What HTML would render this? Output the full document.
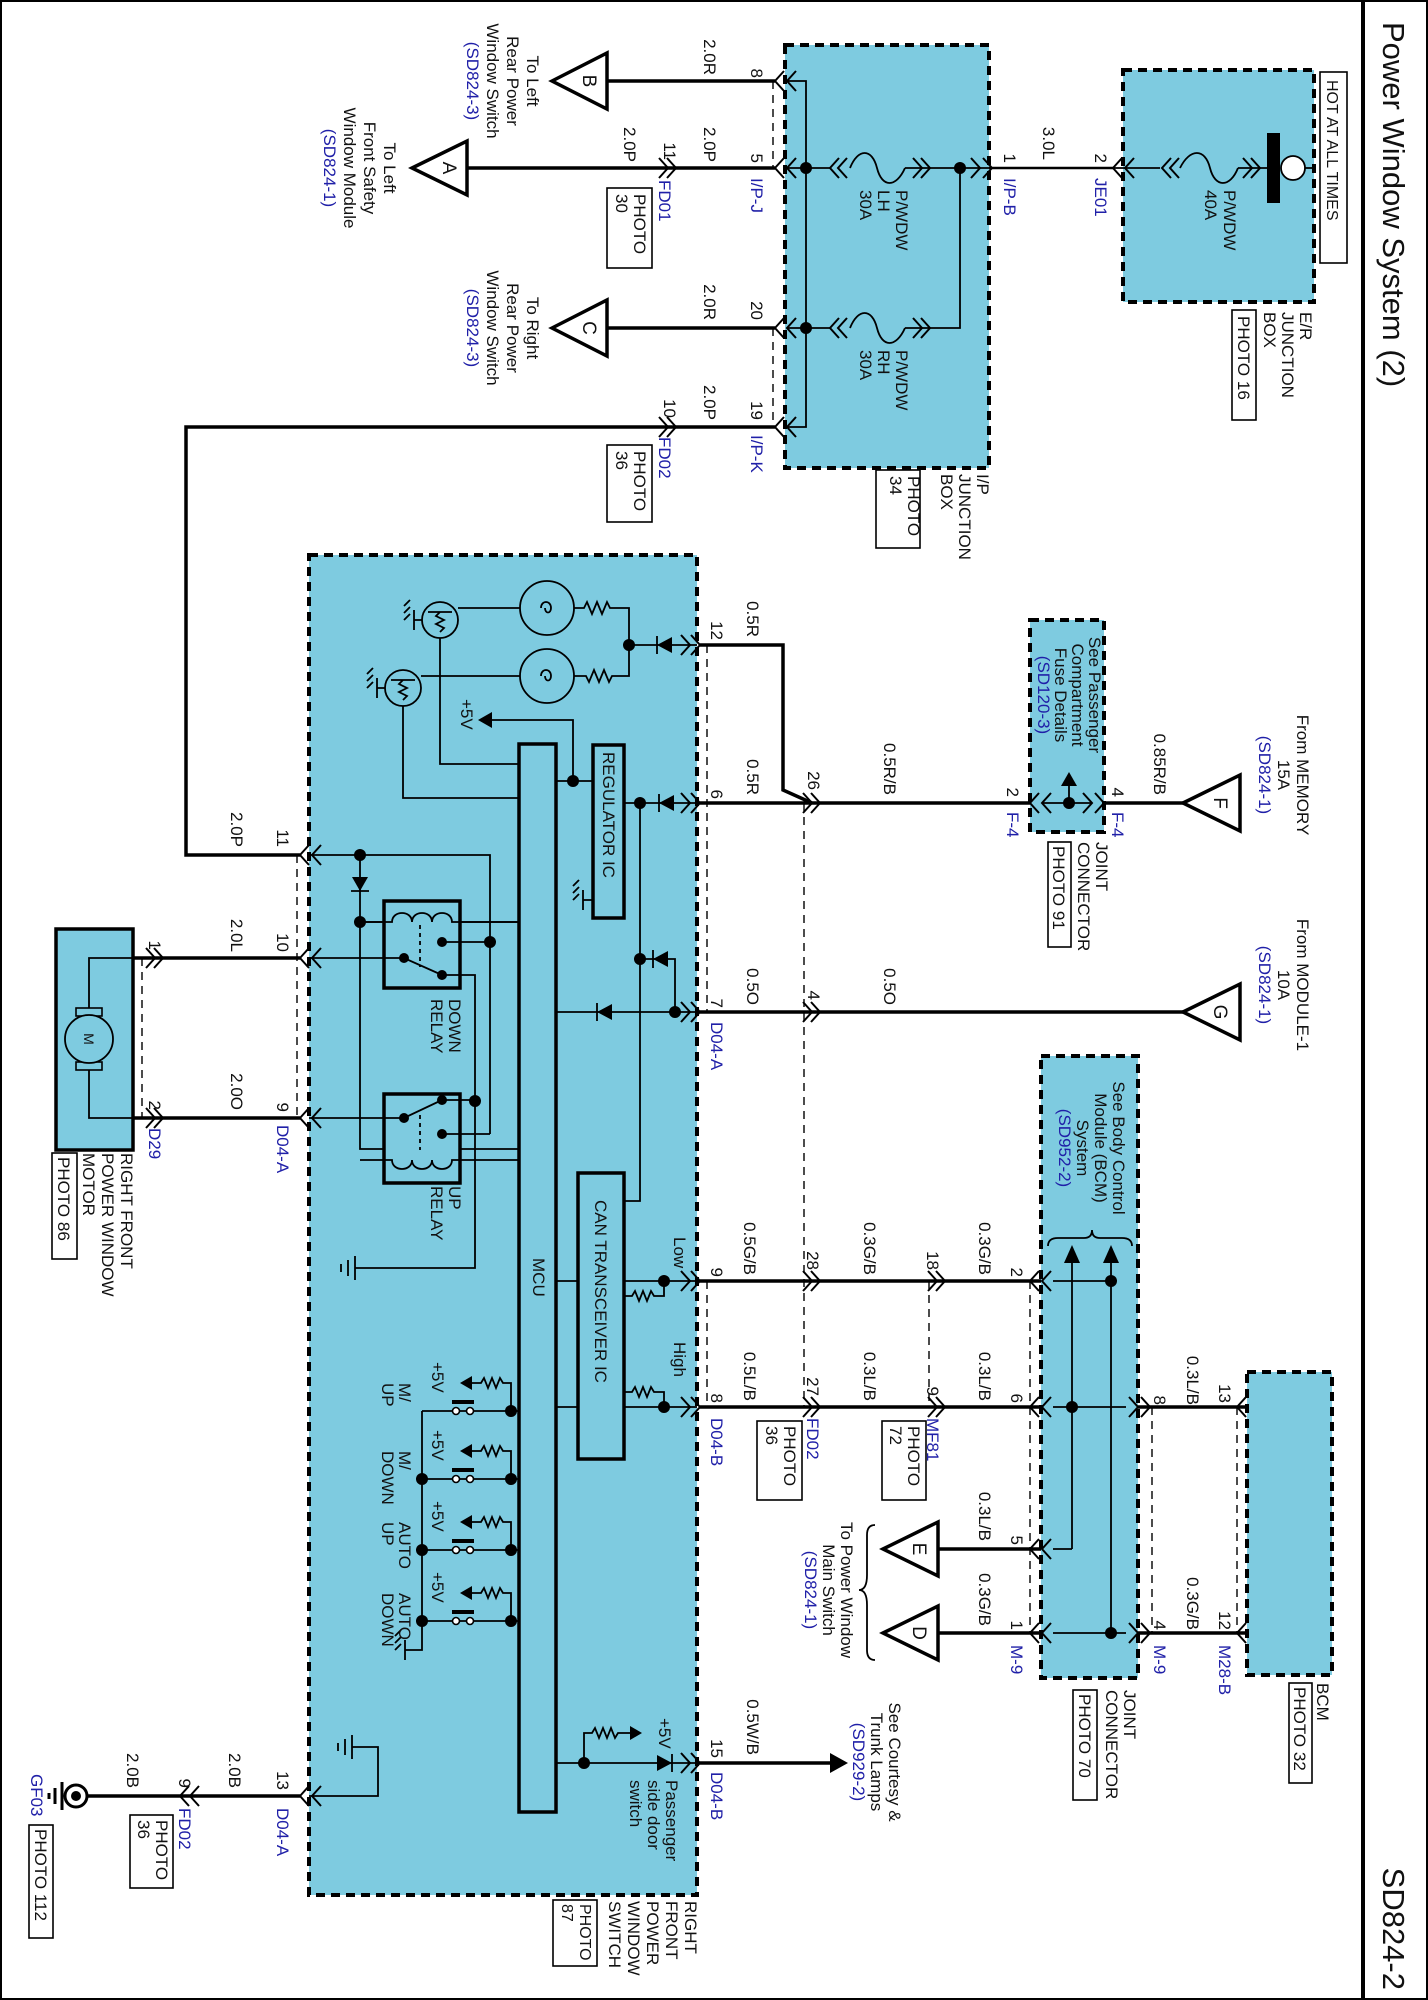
<!DOCTYPE html>
<html><head><meta charset="utf-8"><style>
html,body{margin:0;padding:0;background:#fff}
svg{display:block}
text{font-family:"Liberation Sans",sans-serif;font-size:17px;fill:#111}
.b{fill:#2020a8}
.w{stroke:#000;stroke-width:3.5;fill:none}
.n{stroke:#000;stroke-width:1.8;fill:none}
.d{stroke:#000;stroke-width:1.4;fill:none;stroke-dasharray:8,6}
.bx{fill:#7ecbe0;stroke:#000;stroke-width:4;stroke-dasharray:9,6}
.k{fill:#000}
.pb{fill:#fff;stroke:#000;stroke-width:1.6}
</style></head><body>
<svg width="1428" height="2000" viewBox="0 0 1428 2000" xmlns="http://www.w3.org/2000/svg">
<defs>
<g id="R"><path d="M-9,-10 L0,0 L-9,10" fill="none" stroke="#000" stroke-width="2"/></g>
<g id="L"><path d="M9,-10 L0,0 L9,10" fill="none" stroke="#000" stroke-width="2"/></g>
</defs>
<!-- frame -->
<rect x="1" y="1" width="1426" height="1998" fill="none" stroke="#000" stroke-width="2"/>
<line x1="1363" y1="0" x2="1363" y2="2000" stroke="#000" stroke-width="4"/>
<text transform="translate(1383,22) rotate(90)" style="font-size:31px">Power Window System (2)</text>
<text transform="translate(1383,1990) rotate(90)" text-anchor="end" style="font-size:31px">SD824-2</text>

<!-- E/R box -->
<rect class="bx" x="1123" y="70" width="191" height="232"/>
<rect x="1320" y="72" width="27" height="191" fill="#fff" stroke="#000" stroke-width="1.6"/>
<text transform="translate(1327,80) rotate(90)" style="font-size:16px">HOT AT ALL TIMES</text>
<path class="n" d="M1113,168 H1160 M1180,168 C1190,148 1205,148 1210,168 C1215,188 1230,188 1238,168 M1238,168 H1267"/>
<use href="#L" x="1113" y="168"/><use href="#L" x="1125" y="168"/>
<use href="#L" x="1162" y="168"/><use href="#L" x="1170" y="168"/>
<use href="#R" x="1252" y="168"/><use href="#R" x="1260" y="168"/>
<rect class="k" x="1267" y="133" width="13" height="70"/>
<circle cx="1293" cy="168" r="12" fill="#fff" stroke="#000" stroke-width="1.8"/>
<line class="n" x1="1305" y1="168" x2="1314" y2="168"/>
<text transform="translate(1224,190) rotate(90)">P/WDW<tspan x="0" dy="19">40A</tspan></text>
<text transform="translate(1300,312) rotate(90)">E/R<tspan x="0" dy="18">JUNCTION</tspan><tspan x="0" dy="18">BOX</tspan></text>
<rect x="1232" y="310" width="24" height="110" fill="none" stroke="#000" stroke-width="1.6"/>
<text transform="translate(1238,316) rotate(90)">PHOTO 16</text>
<line x1="989" y1="168" x2="1113" y2="168" stroke="#000" stroke-width="2.6"/>
<text transform="translate(1043,160) rotate(90)" text-anchor="end">3.0L</text>
<text transform="translate(1095,163) rotate(90)" text-anchor="end">2</text>
<text transform="translate(1004,163) rotate(90)" text-anchor="end">1</text>
<text class="b" transform="translate(1095,178) rotate(90)">JE01</text>
<text class="b" transform="translate(1004,178) rotate(90)">I/P-B</text>

<!-- I/P box -->
<rect class="bx" x="785" y="45" width="204" height="423"/>
<path class="n" d="M787,81 H806 V427 H787 M787,168 H830 M850,168 C858,148 872,148 877,168 C882,188 896,188 905,168 M905,168 H989 M787,328 H830 M850,328 C858,308 872,308 877,328 C882,348 896,348 905,328 M905,328 H960 V168"/>
<circle class="k" cx="806" cy="168" r="6"/><circle class="k" cx="806" cy="328" r="6"/><circle class="k" cx="960" cy="168" r="6"/>
<use href="#L" x="775" y="81"/><use href="#L" x="787" y="81"/>
<use href="#L" x="775" y="168"/><use href="#L" x="787" y="168"/>
<use href="#L" x="775" y="328"/><use href="#L" x="787" y="328"/>
<use href="#L" x="775" y="427"/><use href="#L" x="787" y="427"/>
<use href="#L" x="830" y="168"/><use href="#L" x="838" y="168"/>
<use href="#R" x="922" y="168"/><use href="#R" x="930" y="168"/>
<use href="#L" x="830" y="328"/><use href="#L" x="838" y="328"/>
<use href="#R" x="922" y="328"/><use href="#R" x="930" y="328"/>
<use href="#R" x="980" y="168"/><use href="#R" x="992" y="168"/>
<text transform="translate(896,190) rotate(90)">P/WDW<tspan x="0" dy="18">LH</tspan><tspan x="0" dy="18">30A</tspan></text>
<text transform="translate(896,350) rotate(90)">P/WDW<tspan x="0" dy="18">RH</tspan><tspan x="0" dy="18">30A</tspan></text>
<text transform="translate(977,474) rotate(90)">I/P<tspan x="0" dy="18">JUNCTION</tspan><tspan x="0" dy="18">BOX</tspan></text>
<rect x="876" y="470" width="44" height="78" fill="none" stroke="#000" stroke-width="1.6"/>
<text transform="translate(908,476) rotate(90)">PHOTO<tspan x="0" dy="18">34</tspan></text>
<line class="d" x1="773" y1="81" x2="773" y2="168"/><line class="d" x1="773" y1="328" x2="773" y2="427"/>

<!-- left top wires -->
<path class="w" d="M607,81 H775 M467,168 H775 M607,328 H775 M775,427 H186 V855 H300"/>
<polygon points="552,81 607,53 607,109" fill="#fff" stroke="#000" stroke-width="3.5"/>
<polygon points="412,168 467,141 467,195" fill="#fff" stroke="#000" stroke-width="3.5"/>
<polygon points="552,328 607,300 607,356" fill="#fff" stroke="#000" stroke-width="3.5"/>
<text transform="translate(583,81) rotate(90)" text-anchor="middle" style="font-size:19px">B</text>
<text transform="translate(443,168) rotate(90)" text-anchor="middle" style="font-size:19px">A</text>
<text transform="translate(583,328) rotate(90)" text-anchor="middle" style="font-size:19px">C</text>
<use href="#R" x="668" y="168"/><use href="#R" x="676" y="168"/>
<use href="#R" x="668" y="427"/><use href="#R" x="676" y="427"/>
<text transform="translate(704,75) rotate(90)" text-anchor="end">2.0R</text>
<text transform="translate(751,78) rotate(90)" text-anchor="end">8</text>
<text transform="translate(704,162) rotate(90)" text-anchor="end">2.0P</text>
<text transform="translate(751,163) rotate(90)" text-anchor="end">5</text>
<text class="b" transform="translate(751,178) rotate(90)">I/P-J</text>
<text transform="translate(624,162) rotate(90)" text-anchor="end">2.0P</text>
<text transform="translate(664,160) rotate(90)" text-anchor="end">11</text>
<text class="b" transform="translate(659,180) rotate(90)">FD01</text>
<rect x="607" y="188" width="45" height="80" fill="none" stroke="#000" stroke-width="1.6"/>
<text transform="translate(634,194) rotate(90)">PHOTO<tspan x="0" dy="18">30</tspan></text>
<text transform="translate(704,320) rotate(90)" text-anchor="end">2.0R</text>
<text transform="translate(751,320) rotate(90)" text-anchor="end">20</text>
<text transform="translate(704,420) rotate(90)" text-anchor="end">2.0P</text>
<text transform="translate(751,420) rotate(90)" text-anchor="end">19</text>
<text class="b" transform="translate(751,435) rotate(90)">I/P-K</text>
<text transform="translate(664,418) rotate(90)" text-anchor="end">10</text>
<text class="b" transform="translate(659,437) rotate(90)">FD02</text>
<rect x="607" y="445" width="45" height="77" fill="none" stroke="#000" stroke-width="1.6"/>
<text transform="translate(634,451) rotate(90)">PHOTO<tspan x="0" dy="18">36</tspan></text>
<text transform="translate(527,81) rotate(90)" text-anchor="middle">To Left<tspan x="0" dy="20">Rear Power</tspan><tspan x="0" dy="20">Window Switch</tspan><tspan class="b" x="0" dy="20">(SD824-3)</tspan></text>
<text transform="translate(384,168) rotate(90)" text-anchor="middle">To Left<tspan x="0" dy="20">Front Safety</tspan><tspan x="0" dy="20">Window Module</tspan><tspan class="b" x="0" dy="20">(SD824-1)</tspan></text>
<text transform="translate(527,328) rotate(90)" text-anchor="middle">To Right<tspan x="0" dy="20">Rear Power</tspan><tspan x="0" dy="20">Window Switch</tspan><tspan class="b" x="0" dy="20">(SD824-3)</tspan></text>

<!-- switch box -->
<rect class="bx" x="309" y="555" width="388" height="1340"/>
<text transform="translate(685,1901) rotate(90)">RIGHT<tspan x="0" dy="19">FRONT</tspan><tspan x="0" dy="19">POWER</tspan><tspan x="0" dy="19">WINDOW</tspan><tspan x="0" dy="19">SWITCH</tspan></text>
<rect x="553" y="1900" width="44" height="66" fill="none" stroke="#000" stroke-width="1.6"/>
<text transform="translate(580,1904) rotate(90)" style="font-size:16px">PHOTO<tspan x="0" dy="18">87</tspan></text>
<!-- internals -->
<rect x="519" y="744" width="37" height="1068" fill="none" stroke="#000" stroke-width="3.5"/>
<text transform="translate(533,1258) rotate(90)">MCU</text>
<rect x="593" y="745" width="31" height="173" fill="none" stroke="#000" stroke-width="3.5"/>
<text transform="translate(603,752) rotate(90)">REGULATOR IC</text>
<rect x="578" y="1173" width="46" height="286" fill="none" stroke="#000" stroke-width="3.5"/>
<text transform="translate(595,1200) rotate(90)">CAN TRANSCEIVER IC</text>
<circle class="n" cx="547" cy="608" r="27"/><circle class="n" cx="547" cy="676" r="27"/>
<path class="n" d="M541,608 c0,-8 10,-8 10,0 c0,6 -6,6 -6,0 M541,676 c0,-8 10,-8 10,0 c0,6 -6,6 -6,0"/>
<path class="n" d="M574,608 H584 l3,-6 l5,12 l5,-12 l5,12 l5,-12 l3,6 H629 V676 H612 l-3,6 l-5,-12 l-5,12 l-5,-12 l-5,12 l-3,-6 H574"/>
<path class="n" d="M629,645 H697"/><circle class="k" cx="629" cy="645" r="6"/>
<polygon class="k" points="657,645 672,637 672,653"/><line class="n" x1="657" y1="636" x2="657" y2="654"/>
<path class="n" d="M520,608 H458 M520,676 H421"/>
<circle class="n" cx="440" cy="620" r="18"/><circle class="n" cx="403" cy="688" r="18"/>
<path class="n" d="M428,612 H452 M440,612 l-4,4 l8,4 l-8,4 l8,4 l-4,4 M391,680 H415 M403,680 l-4,4 l8,4 l-8,4 l8,4 l-4,4"/>
<path class="n" d="M422,620 H414 M414,610 v20 M404,606 l6,-6 M404,613 l6,-6 M404,620 l6,-6 M385,688 H377 M377,678 v20 M367,674 l6,-6 M367,681 l6,-6 M367,688 l6,-6"/>
<path class="n" d="M440,638 V764 H519 M403,706 V798 H519"/>
<path class="n" d="M556,781 H593 M573,781 V720 H490"/><circle class="k" cx="573" cy="781" r="6"/>
<polygon class="k" points="478,720 492,712 492,728"/>
<text transform="translate(461,699) rotate(90)">+5V</text>
<path class="n" d="M593,900 H583 M583,890 v20 M573,886 l6,-6 M573,893 l6,-6 M573,900 l6,-6"/>
<path class="n" d="M624,803 H697 M640,803 V1201 H624"/><circle class="k" cx="640" cy="803" r="6"/>
<polygon class="k" points="659,803 674,795 674,811"/><line class="n" x1="659" y1="794" x2="659" y2="812"/>
<path class="n" d="M640,959 H675 V1012"/><circle class="k" cx="640" cy="959" r="6"/><circle class="k" cx="675" cy="1012" r="6"/>
<polygon class="k" points="653,959 668,951 668,967"/><line class="n" x1="653" y1="950" x2="653" y2="968"/>
<path class="n" d="M556,1012 H697"/>
<polygon class="k" points="597,1012 612,1004 612,1020"/><line class="n" x1="597" y1="1003" x2="597" y2="1021"/>
<!-- relays -->
<path class="n" d="M309,855 H490 V1134 M360,855 V1149 H519 M360,922 H519"/>
<circle class="k" cx="360" cy="855" r="6"/><circle class="k" cx="360" cy="922" r="6"/>
<polygon class="k" points="360,891 352,877 368,877"/><line class="n" x1="351" y1="891" x2="369" y2="891"/>
<rect x="384" y="901" width="76" height="87" fill="#7ecbe0" stroke="#000" stroke-width="3.5"/>
<rect x="384" y="1094" width="76" height="89" fill="#7ecbe0" stroke="#000" stroke-width="3.5"/>
<path class="n" d="M360,922 H392 c0,-12 20,-12 20,0 c0,-12 20,-12 20,0 c0,-12 20,-12 20,0 H519"/>
<path class="n" d="M360,1160 H392 c0,12 20,12 20,0 c0,12 20,12 20,0 c0,12 20,12 20,0 H519"/>
<path class="n" d="M309,958 H404 L442,975 M442,942 H490 M442,975 H475 V1268 H355"/>
<path class="n" d="M309,1118 H404 L442,1100 M442,1100 H475 M442,1134 H490"/>
<path class="n" stroke-dasharray="4,4" d="M420,925 V967 M420,1115 V1150"/>
<circle class="k" cx="404" cy="958" r="5"/><circle class="k" cx="442" cy="942" r="5"/><circle class="k" cx="442" cy="975" r="5"/>
<circle class="k" cx="404" cy="1118" r="5"/><circle class="k" cx="442" cy="1100" r="5"/><circle class="k" cx="442" cy="1134" r="5"/>
<circle class="k" cx="490" cy="942" r="6"/><circle class="k" cx="475" cy="1101" r="6"/>
<path class="n" d="M355,1256 v24 M348,1260 v16 M341,1264 v8"/>
<text transform="translate(449,999) rotate(90)">DOWN<tspan x="0" dy="18">RELAY</tspan></text>
<text transform="translate(449,1186) rotate(90)">UP<tspan x="0" dy="18">RELAY</tspan></text>
<!-- CAN -->
<path class="n" d="M556,1281 H578 M556,1407 H578 M624,1281 H697 M624,1407 H697 M664,1281 V1296 H654 l-3,-5 l-4,10 l-4,-10 l-4,10 l-4,-10 l-3,5 H624 M664,1407 V1392 H654 l-3,-5 l-4,10 l-4,-10 l-4,10 l-4,-10 l-3,5 H624"/>
<circle class="k" cx="664" cy="1281" r="6"/><circle class="k" cx="664" cy="1407" r="6"/>
<text transform="translate(674,1237) rotate(90)">Low</text>
<text transform="translate(674,1342) rotate(90)">High</text>
<!-- switches -->
<path class="n" d="M422,1411 V1650 H405 M405,1640 v20 M395,1636 l6,-6 M395,1643 l6,-6 M395,1650 l6,-6"/>
<g id="sw">
<path class="n" d="M519,1411 H422 M511,1411 V1383 H503 l-3,-5 l-4,10 l-4,-10 l-4,10 l-4,-10 l-3,5 H470"/>
<polygon class="k" points="460,1383 472,1376 472,1390"/>
<rect class="k" x="452" y="1400" width="22" height="4"/>
<circle class="pb" cx="470" cy="1411" r="3.5"/><circle class="pb" cx="456" cy="1411" r="3.5"/>
<circle class="k" cx="511" cy="1411" r="6"/>
<text transform="translate(432,1362) rotate(90)">+5V</text>
</g>
<use href="#sw" y="68"/><use href="#sw" y="139"/><use href="#sw" y="210"/>
<circle class="k" cx="422" cy="1479" r="6"/><circle class="k" cx="422" cy="1550" r="6"/><circle class="k" cx="422" cy="1621" r="6"/>
<text transform="translate(399,1383) rotate(90)">M/<tspan x="0" dy="17">UP</tspan></text>
<text transform="translate(399,1451) rotate(90)">M/<tspan x="0" dy="17">DOWN</tspan></text>
<text transform="translate(399,1522) rotate(90)">AUTO<tspan x="0" dy="17">UP</tspan></text>
<text transform="translate(399,1593) rotate(90)">AUTO<tspan x="0" dy="17">DOWN</tspan></text>
<!-- door switch -->
<path class="n" d="M556,1763 H697 M584,1763 V1733 H592 l3,-5 l4,10 l4,-10 l4,10 l4,-10 l4,10 l3,-5 H630"/>
<polygon class="k" points="642,1733 630,1726 630,1740"/>
<circle class="k" cx="584" cy="1763" r="6"/>
<polygon class="k" points="672,1763 657,1755 657,1771"/><line class="n" x1="672" y1="1754" x2="672" y2="1772"/>
<text transform="translate(659,1718) rotate(90)">+5V</text>
<text transform="translate(666,1780) rotate(90)">Passenger<tspan x="0" dy="18">side door</tspan><tspan x="0" dy="18">switch</tspan></text>
<path class="n" d="M309,1796 H378 V1747 H352 M352,1735 v24 M345,1739 v16 M338,1743 v8"/>

<!-- connectors switch right side -->
<use href="#R" x="690" y="645"/><use href="#R" x="700" y="645"/>
<use href="#R" x="690" y="803"/><use href="#R" x="700" y="803"/>
<use href="#R" x="690" y="1012"/><use href="#R" x="700" y="1012"/>
<use href="#R" x="690" y="1281"/><use href="#R" x="700" y="1281"/>
<use href="#R" x="690" y="1407"/><use href="#R" x="700" y="1407"/>
<use href="#R" x="690" y="1763"/><use href="#R" x="700" y="1763"/>
<!-- left side -->
<use href="#L" x="300" y="855"/><use href="#L" x="312" y="855"/>
<use href="#L" x="300" y="958"/><use href="#L" x="312" y="958"/>
<use href="#L" x="300" y="1118"/><use href="#L" x="312" y="1118"/>
<use href="#L" x="300" y="1796"/><use href="#L" x="312" y="1796"/>
<line class="d" x1="297" y1="855" x2="297" y2="1118"/>
<line class="d" x1="707" y1="645" x2="707" y2="1012"/>
<line class="d" x1="707" y1="1281" x2="707" y2="1407"/>
<line class="d" x1="804" y1="803" x2="804" y2="1407"/>
<line class="d" x1="929" y1="1281" x2="929" y2="1407"/>
<line class="d" x1="1030" y1="1281" x2="1030" y2="1633"/>
<line class="d" x1="1152" y1="1407" x2="1152" y2="1633"/>
<line class="d" x1="1237" y1="1407" x2="1237" y2="1633"/>
<line class="d" x1="142" y1="958" x2="142" y2="1118"/>

<!-- motor -->
<path class="w" d="M300,958 H133 M300,1118 H133"/>
<rect x="56" y="929" width="77" height="221" fill="#7ecbe0" stroke="#000" stroke-width="3.5"/>
<path class="n" d="M133,958 H89 V1008 M89,1070 V1118 H133"/>
<rect x="76" y="1008" width="26" height="8" fill="#7ecbe0" stroke="#000" stroke-width="1.6"/>
<rect x="76" y="1062" width="26" height="8" fill="#7ecbe0" stroke="#000" stroke-width="1.6"/>
<circle cx="89" cy="1039" r="24" fill="#7ecbe0" stroke="#000" stroke-width="1.8"/>
<text transform="translate(84,1039) rotate(90)" text-anchor="middle" style="font-size:14px">M</text>
<use href="#R" x="155" y="958"/><use href="#R" x="163" y="958"/>
<use href="#R" x="155" y="1118"/><use href="#R" x="163" y="1118"/>
<text transform="translate(231,847) rotate(90)" text-anchor="end">2.0P</text>
<text transform="translate(277,847) rotate(90)" text-anchor="end">11</text>
<text transform="translate(231,952) rotate(90)" text-anchor="end">2.0L</text>
<text transform="translate(277,952) rotate(90)" text-anchor="end">10</text>
<text transform="translate(149,950) rotate(90)" text-anchor="end">1</text>
<text transform="translate(231,1110) rotate(90)" text-anchor="end">2.0O</text>
<text transform="translate(277,1112) rotate(90)" text-anchor="end">9</text>
<text transform="translate(149,1110) rotate(90)" text-anchor="end">2</text>
<text class="b" transform="translate(149,1128) rotate(90)">D29</text>
<text class="b" transform="translate(277,1125) rotate(90)">D04-A</text>
<text transform="translate(121,1153) rotate(90)">RIGHT FRONT<tspan x="0" dy="19">POWER WINDOW</tspan><tspan x="0" dy="19">MOTOR</tspan></text>
<rect x="52" y="1153" width="25" height="106" fill="none" stroke="#000" stroke-width="1.6"/>
<text transform="translate(58,1157) rotate(90)">PHOTO 86</text>

<!-- ground GF03 -->
<path class="w" d="M300,1796 H88"/>
<use href="#L" x="180" y="1796"/><use href="#L" x="190" y="1796"/>
<circle cx="76" cy="1796" r="11" fill="#fff" stroke="#000" stroke-width="3"/><circle class="k" cx="76" cy="1796" r="5"/>
<path stroke="#000" stroke-width="3" d="M62,1782 v28 M55,1788 v16 M49,1793 v6"/>
<text transform="translate(229,1788) rotate(90)" text-anchor="end">2.0B</text>
<text transform="translate(277,1790) rotate(90)" text-anchor="end">13</text>
<text class="b" transform="translate(277,1808) rotate(90)">D04-A</text>
<text transform="translate(179,1788) rotate(90)" text-anchor="end">9</text>
<text transform="translate(127,1788) rotate(90)" text-anchor="end">2.0B</text>
<text class="b" transform="translate(179,1808) rotate(90)">FD02</text>
<rect x="130" y="1815" width="43" height="73" fill="none" stroke="#000" stroke-width="1.6"/>
<text transform="translate(156,1820) rotate(90)">PHOTO<tspan x="0" dy="18">36</tspan></text>
<text class="b" transform="translate(31,1774) rotate(90)">GF03</text>
<rect x="29" y="1825" width="24" height="113" fill="none" stroke="#000" stroke-width="1.6"/>
<text transform="translate(35,1829) rotate(90)">PHOTO 112</text>

<!-- right side wires -->
<path class="w" d="M700,645 H783 V790 L812,803 M700,803 H1030 M1104,803 H1183 M700,1012 H1183 M700,1281 H1041 M700,1407 H1041 M1138,1407 H1247 M938,1549 H1041 M938,1633 H1041 M1138,1633 H1247 M700,1763 H832"/>
<polygon class="k" points="848,1763 830,1753 830,1773"/>
<use href="#R" x="812" y="803"/><use href="#R" x="820" y="803"/>
<use href="#R" x="812" y="1012"/><use href="#R" x="820" y="1012"/>
<use href="#R" x="812" y="1281"/><use href="#R" x="820" y="1281"/>
<use href="#R" x="812" y="1407"/><use href="#R" x="820" y="1407"/>
<use href="#R" x="937" y="1281"/><use href="#R" x="945" y="1281"/>
<use href="#R" x="937" y="1407"/><use href="#R" x="945" y="1407"/>
<polygon points="1183,803 1240,775 1240,831" fill="#fff" stroke="#000" stroke-width="3.5"/>
<polygon points="1183,1012 1240,984 1240,1040" fill="#fff" stroke="#000" stroke-width="3.5"/>
<polygon points="883,1549 938,1522 938,1576" fill="#fff" stroke="#000" stroke-width="3.5"/>
<polygon points="883,1633 938,1606 938,1660" fill="#fff" stroke="#000" stroke-width="3.5"/>
<text transform="translate(1214,803) rotate(90)" text-anchor="middle" style="font-size:19px">F</text>
<text transform="translate(1214,1012) rotate(90)" text-anchor="middle" style="font-size:19px">G</text>
<text transform="translate(913,1549) rotate(90)" text-anchor="middle" style="font-size:19px">E</text>
<text transform="translate(913,1633) rotate(90)" text-anchor="middle" style="font-size:19px">D</text>

<text transform="translate(747,637) rotate(90)" text-anchor="end">0.5R</text>
<text transform="translate(711,640) rotate(90)" text-anchor="end">12</text>
<text transform="translate(747,795) rotate(90)" text-anchor="end">0.5R</text>
<text transform="translate(711,799) rotate(90)" text-anchor="end">6</text>
<text transform="translate(884,795) rotate(90)" text-anchor="end">0.5R/B</text>
<text transform="translate(808,790) rotate(90)" text-anchor="end">26</text>
<text transform="translate(1007,797) rotate(90)" text-anchor="end">2</text>
<text class="b" transform="translate(1007,812) rotate(90)">F-4</text>
<text transform="translate(747,1005) rotate(90)" text-anchor="end">0.5O</text>
<text transform="translate(711,1008) rotate(90)" text-anchor="end">7</text>
<text class="b" transform="translate(711,1022) rotate(90)">D04-A</text>
<text transform="translate(808,1000) rotate(90)" text-anchor="end">4</text>
<text transform="translate(884,1005) rotate(90)" text-anchor="end">0.5O</text>
<text transform="translate(1154,795) rotate(90)" text-anchor="end">0.85R/B</text>
<text transform="translate(1112,797) rotate(90)" text-anchor="end">4</text>
<text class="b" transform="translate(1112,812) rotate(90)">F-4</text>
<text transform="translate(1297,775) rotate(90)" text-anchor="middle">From MEMORY<tspan x="0" dy="19">15A</tspan><tspan class="b" x="0" dy="19">(SD824-1)</tspan></text>
<text transform="translate(1297,985) rotate(90)" text-anchor="middle">From MODULE-1<tspan x="0" dy="19">10A</tspan><tspan class="b" x="0" dy="19">(SD824-1)</tspan></text>

<!-- F-4 joint -->
<rect class="bx" x="1030" y="620" width="74" height="212"/>
<path class="n" d="M1042,803 H1092 M1069,803 V785"/>
<circle class="k" cx="1069" cy="803" r="6"/>
<polygon class="k" points="1069,772 1061,786 1077,786"/>
<use href="#L" x="1030" y="803"/><use href="#L" x="1042" y="803"/>
<use href="#R" x="1092" y="803"/><use href="#R" x="1104" y="803"/>
<text transform="translate(1089,695) rotate(90)" text-anchor="middle">See Passenger<tspan x="0" dy="17">Compartment</tspan><tspan x="0" dy="17">Fuse Details</tspan><tspan class="b" x="0" dy="17">(SD120-3)</tspan></text>
<text transform="translate(1096,842) rotate(90)">JOINT<tspan x="0" dy="18">CONNECTOR</tspan></text>
<rect x="1048" y="842" width="23" height="105" fill="none" stroke="#000" stroke-width="1.6"/>
<text transform="translate(1053,846) rotate(90)">PHOTO 91</text>

<!-- BCM joint -->
<rect class="bx" x="1041" y="1056" width="97" height="622"/>
<path class="n" d="M1053,1281 H1111 M1053,1407 H1126 M1053,1549 H1072 M1053,1633 H1126 M1072,1262 V1549 M1111,1262 V1633"/>
<polygon class="k" points="1072,1245 1064,1263 1080,1263"/><polygon class="k" points="1111,1245 1103,1263 1119,1263"/>
<circle class="k" cx="1111" cy="1281" r="6"/><circle class="k" cx="1072" cy="1407" r="6"/><circle class="k" cx="1111" cy="1633" r="6"/>
<path class="n" d="M1048,1246 q0,-8 10,-8 h26 q8,0 8,-8 q0,8 8,8 h22 q10,0 10,8"/>
<use href="#L" x="1030" y="1281"/><use href="#L" x="1042" y="1281"/>
<use href="#L" x="1030" y="1407"/><use href="#L" x="1042" y="1407"/>
<use href="#L" x="1030" y="1549"/><use href="#L" x="1042" y="1549"/>
<use href="#L" x="1030" y="1633"/><use href="#L" x="1042" y="1633"/>
<use href="#R" x="1138" y="1407"/><use href="#R" x="1150" y="1407"/>
<use href="#R" x="1138" y="1633"/><use href="#R" x="1150" y="1633"/>
<use href="#L" x="1237" y="1407"/><use href="#L" x="1249" y="1407"/>
<use href="#L" x="1237" y="1633"/><use href="#L" x="1249" y="1633"/>
<text transform="translate(1113,1148) rotate(90)" text-anchor="middle">See Body Control<tspan x="0" dy="18">Module (BCM)</tspan><tspan x="0" dy="18">System</tspan><tspan class="b" x="0" dy="18">(SD952-2)</tspan></text>
<text transform="translate(1124,1690) rotate(90)">JOINT<tspan x="0" dy="18">CONNECTOR</tspan></text>
<rect x="1073" y="1690" width="24" height="110" fill="none" stroke="#000" stroke-width="1.6"/>
<text transform="translate(1079,1694) rotate(90)">PHOTO 70</text>
<rect class="bx" x="1247" y="1372" width="85" height="303"/>
<text transform="translate(1317,1683) rotate(90)">BCM</text>
<rect x="1289" y="1683" width="23" height="100" fill="none" stroke="#000" stroke-width="1.6"/>
<text transform="translate(1294,1687) rotate(90)">PHOTO 32</text>

<text transform="translate(744,1275) rotate(90)" text-anchor="end">0.5G/B</text>
<text transform="translate(711,1277) rotate(90)" text-anchor="end">9</text>
<text transform="translate(807,1270) rotate(90)" text-anchor="end">28</text>
<text transform="translate(864,1275) rotate(90)" text-anchor="end">0.3G/B</text>
<text transform="translate(927,1270) rotate(90)" text-anchor="end">18</text>
<text transform="translate(979,1275) rotate(90)" text-anchor="end">0.3G/B</text>
<text transform="translate(1011,1277) rotate(90)" text-anchor="end">2</text>
<text transform="translate(744,1401) rotate(90)" text-anchor="end">0.5L/B</text>
<text transform="translate(711,1403) rotate(90)" text-anchor="end">8</text>
<text transform="translate(807,1396) rotate(90)" text-anchor="end">27</text>
<text transform="translate(864,1401) rotate(90)" text-anchor="end">0.3L/B</text>
<text transform="translate(927,1396) rotate(90)" text-anchor="end">9</text>
<text transform="translate(979,1401) rotate(90)" text-anchor="end">0.3L/B</text>
<text transform="translate(1011,1403) rotate(90)" text-anchor="end">6</text>
<text class="b" transform="translate(711,1418) rotate(90)">D04-B</text>
<text class="b" transform="translate(807,1418) rotate(90)">FD02</text>
<rect x="757" y="1421" width="45" height="79" fill="none" stroke="#000" stroke-width="1.6"/>
<text transform="translate(784,1426) rotate(90)">PHOTO<tspan x="0" dy="18">36</tspan></text>
<text class="b" transform="translate(927,1418) rotate(90)">MF81</text>
<rect x="882" y="1421" width="44" height="79" fill="none" stroke="#000" stroke-width="1.6"/>
<text transform="translate(908,1426) rotate(90)">PHOTO<tspan x="0" dy="18">72</tspan></text>
<text transform="translate(979,1541) rotate(90)" text-anchor="end">0.3L/B</text>
<text transform="translate(1011,1545) rotate(90)" text-anchor="end">5</text>
<text transform="translate(979,1626) rotate(90)" text-anchor="end">0.3G/B</text>
<text transform="translate(1011,1630) rotate(90)" text-anchor="end">1</text>
<text class="b" transform="translate(1011,1645) rotate(90)">M-9</text>
<text transform="translate(841,1590) rotate(90)" text-anchor="middle">To Power Window<tspan x="0" dy="18">Main Switch</tspan><tspan class="b" x="0" dy="18">(SD824-1)</tspan></text>
<path class="n" d="M875,1525 q-8,0 -8,10 v40 q0,15 -8,15 q8,0 8,15 v45 q0,10 8,10"/>
<text transform="translate(1154,1405) rotate(90)" text-anchor="end">8</text>
<text transform="translate(1187,1405) rotate(90)" text-anchor="end">0.3L/B</text>
<text transform="translate(1219,1403) rotate(90)" text-anchor="end">13</text>
<text transform="translate(1154,1630) rotate(90)" text-anchor="end">4</text>
<text transform="translate(1187,1630) rotate(90)" text-anchor="end">0.3G/B</text>
<text transform="translate(1219,1630) rotate(90)" text-anchor="end">12</text>
<text class="b" transform="translate(1154,1645) rotate(90)">M-9</text>
<text class="b" transform="translate(1219,1645) rotate(90)">M28-B</text>
<text transform="translate(747,1755) rotate(90)" text-anchor="end">0.5W/B</text>
<text transform="translate(711,1758) rotate(90)" text-anchor="end">15</text>
<text class="b" transform="translate(711,1772) rotate(90)">D04-B</text>
<text transform="translate(889,1762) rotate(90)" text-anchor="middle">See Courtesy &amp;<tspan x="0" dy="18">Trunk Lamps</tspan><tspan class="b" x="0" dy="18">(SD929-2)</tspan></text>
</svg>
</body></html>
